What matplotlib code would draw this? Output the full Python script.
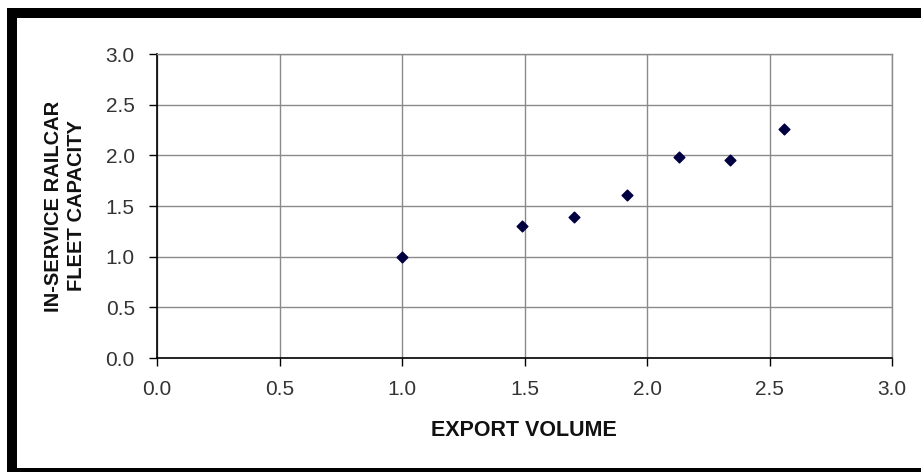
import matplotlib
matplotlib.use("Agg")
import matplotlib.pyplot as plt
from matplotlib.patches import Rectangle

# export volume vs in-service fleet capacity (both indexed)
export_volume = [1.00, 1.49, 1.70, 1.92, 2.13, 2.34, 2.56]
fleet_capacity = [1.00, 1.30, 1.39, 1.61, 1.98, 1.95, 2.26]
ticks = [0.0, 0.5, 1.0, 1.5, 2.0, 2.5, 3.0]

plt.rcParams['font.family'] = ['Liberation Sans', 'DejaVu Sans']

W, H = 924, 472
fig = plt.figure(figsize=(W / 100, H / 100), dpi=100)
fig.patch.set_facecolor("white")

ax = fig.add_axes([157 / W, 1 - 358 / H, (892 - 157) / W, (358 - 54) / H])
ax.scatter(export_volume, fleet_capacity, marker="D", s=30, color="#000040", zorder=3)

ax.set_xlim(0, 3)
ax.set_ylim(0, 3)
ax.set_xticks(ticks)
ax.set_yticks(ticks)
ax.set_xticklabels([f"{t:.1f}" for t in ticks])
ax.set_yticklabels([f"{t:.1f}" for t in ticks])
ax.tick_params(direction="out", length=6, width=1, color="black", labelsize=15,
               labelcolor="#333333")
ax.tick_params(axis="x", pad=10)
ax.tick_params(axis="y", pad=10)
ax.grid(True, color="#8a8a8a", linewidth=1)
ax.set_axisbelow(True)
for side in ("top", "right"):
    ax.spines[side].set_color("#8a8a8a")
    ax.spines[side].set_linewidth(1)
for side in ("left", "bottom"):
    ax.spines[side].set_color("black")
    ax.spines[side].set_linewidth(1.2)

fig.text(524 / W, 1 - 431 / H, "EXPORT VOLUME", ha="center", va="center",
         fontsize=15.5, fontweight="bold", color="#111111")
fig.text(65 / W, 1 - 206 / H, "IN-SERVICE RAILCAR\nFLEET CAPACITY", ha="center",
         va="center", rotation=90, fontsize=14.5, fontweight="bold", color="#111111",
         linespacing=1.25, multialignment="center")

# black frame on top, left and bottom
frame = [(7, 8, 914, 10), (7, 8, 10, 464), (7, 468, 914, 4)]
for x, y, w, h in frame:
    fig.add_artist(Rectangle((x / W, 1 - (y + h) / H), w / W, h / H,
                             transform=fig.transFigure, color="black", lw=0))

fig.savefig("out.png", dpi=100, facecolor="white")
